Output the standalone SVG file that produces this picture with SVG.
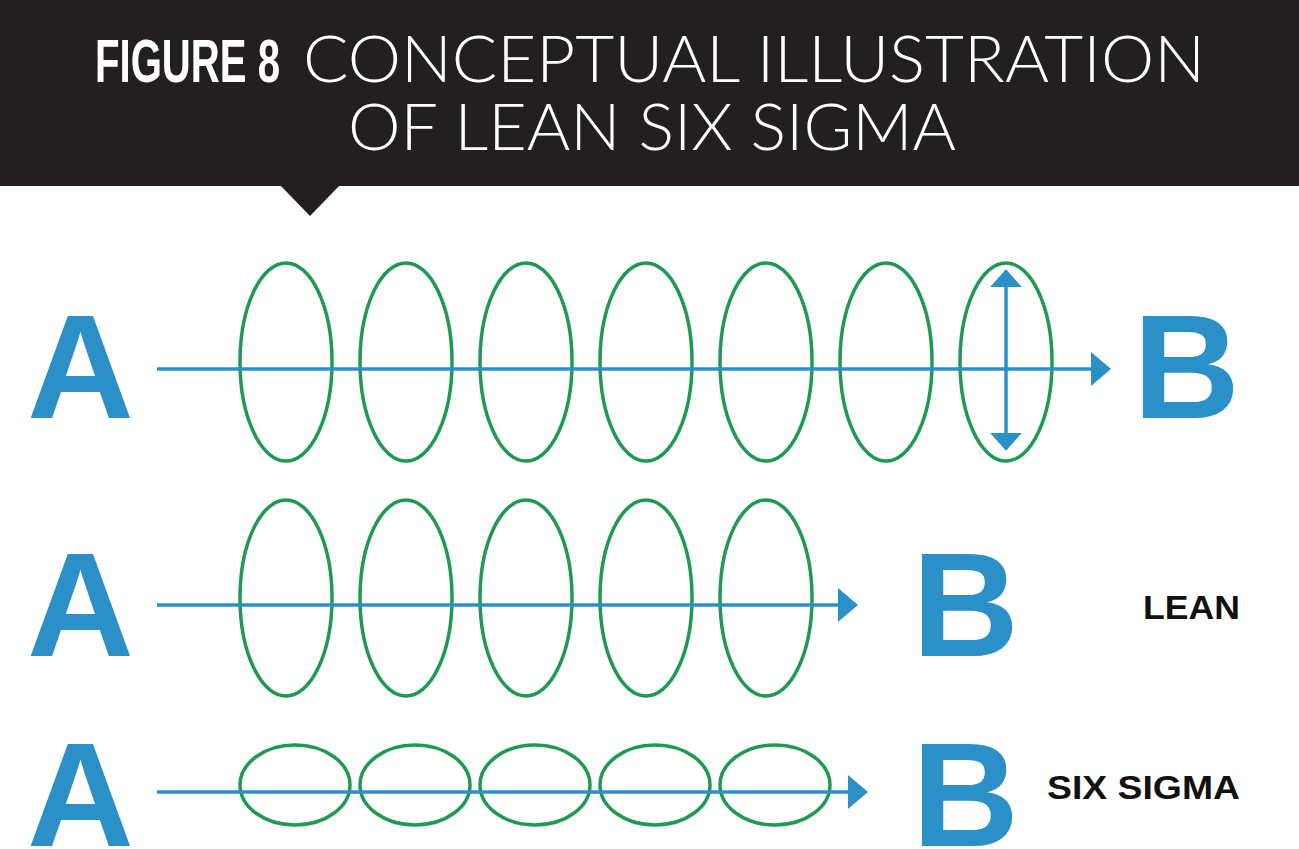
<svg xmlns="http://www.w3.org/2000/svg" width="1299" height="849" viewBox="0 0 1299 849">
<style>
.e{fill:none;stroke:#1f9a52;stroke-width:3.5}
.l{stroke:#2b90c8;stroke-width:3.5;fill:none}
.big{font-family:"Liberation Sans",Arial,sans-serif;font-weight:bold;fill:#2b90c8;font-size:148px}
.lab{font-family:"Liberation Sans",Arial,sans-serif;font-weight:bold;fill:#111;font-size:34px}
.thin{font-family:Lato,"Open Sans","Liberation Sans",sans-serif;font-weight:300;font-size:66px;fill:#fff}
</style>
<defs>
<marker id="a2" viewBox="0 0 10 10" refX="9" refY="5" markerWidth="20" markerHeight="34" orient="auto-start-reverse" markerUnits="userSpaceOnUse" preserveAspectRatio="none"><path d="M0,0L10,5L0,10z" fill="#2b90c8"/></marker>
<marker id="a3" viewBox="0 0 10 10" refX="9" refY="5" markerWidth="18" markerHeight="32" orient="auto-start-reverse" markerUnits="userSpaceOnUse" preserveAspectRatio="none"><path d="M0,0L10,5L0,10z" fill="#2b90c8"/></marker></defs>
<g id="header">
<rect x="0" y="0" width="1299" height="186" fill="#231f20"/>
<path d="M280,185L340,185L310,216z" fill="#231f20"/>
<text x="95" y="82" font-family="Liberation Sans Narrow,Liberation Sans,sans-serif" font-weight="bold" font-size="62" fill="#fff" textLength="185" lengthAdjust="spacingAndGlyphs">FIGURE 8</text>
<text class="thin" x="303" y="82" textLength="902" lengthAdjust="spacingAndGlyphs">CONCEPTUAL ILLUSTRATION</text>
<text class="thin" x="348" y="150" textLength="608" lengthAdjust="spacingAndGlyphs">OF LEAN SIX SIGMA</text>
</g>
<g id="row1">
<text class="big" x="27" y="418">A</text>
<text class="big" x="1133" y="418">B</text>
<ellipse class="e" cx="286" cy="362" rx="46" ry="99"/><ellipse class="e" cx="406" cy="362" rx="46" ry="99"/><ellipse class="e" cx="526" cy="362" rx="46" ry="99"/><ellipse class="e" cx="646" cy="362" rx="46" ry="99"/><ellipse class="e" cx="766" cy="362" rx="46" ry="99"/><ellipse class="e" cx="886" cy="362" rx="46" ry="99"/><ellipse class="e" cx="1006" cy="362" rx="46" ry="99"/>
</g>
<g id="row2">
<text class="big" x="27" y="656">A</text>
<text class="big" x="912" y="656">B</text>
<text class="lab" x="1143" y="619" textLength="97" lengthAdjust="spacingAndGlyphs">LEAN</text>
<ellipse class="e" cx="286" cy="598" rx="46" ry="98"/><ellipse class="e" cx="406" cy="598" rx="46" ry="98"/><ellipse class="e" cx="526" cy="598" rx="46" ry="98"/><ellipse class="e" cx="646" cy="598" rx="46" ry="98"/><ellipse class="e" cx="766" cy="598" rx="46" ry="98"/>
</g>
<g id="row3">
<text class="big" x="27" y="846">A</text>
<text class="big" x="912" y="846">B</text>
<text class="lab" x="1047" y="799" textLength="193" lengthAdjust="spacingAndGlyphs">SIX SIGMA</text>
<ellipse class="e" cx="295" cy="785" rx="55" ry="40"/><ellipse class="e" cx="415" cy="785" rx="55" ry="40"/><ellipse class="e" cx="535" cy="785" rx="55" ry="40"/><ellipse class="e" cx="655" cy="785" rx="55" ry="40"/><ellipse class="e" cx="775" cy="785" rx="55" ry="40"/>
</g>
<g id="connectors">
<line class="l" x1="157" y1="369" x2="1109" y2="369" marker-end="url(#a2)"/>
<line class="l" x1="1006" y1="271" x2="1006" y2="449" marker-start="url(#a3)" marker-end="url(#a3)"/>
<line class="l" x1="157" y1="605" x2="856" y2="605" marker-end="url(#a2)"/>
<line class="l" x1="157" y1="792" x2="866" y2="792" marker-end="url(#a2)"/>
</g>
</svg>
